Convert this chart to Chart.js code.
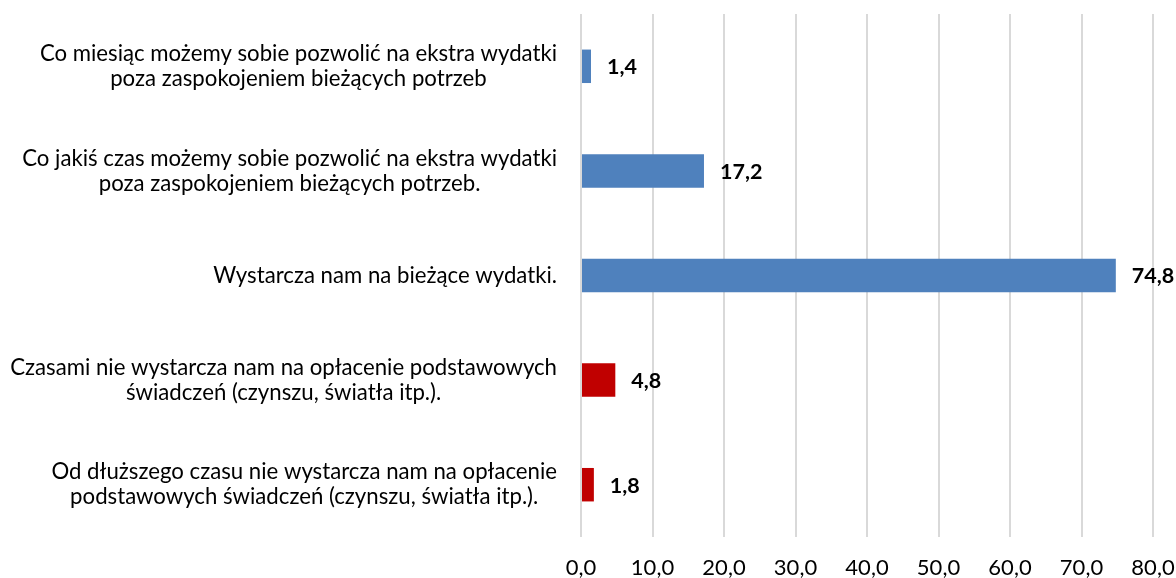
<!DOCTYPE html>
<html>
<head>
<meta charset="utf-8">
<script src="https://cdn.jsdelivr.net/npm/chart.js@4"></script>
<style>
  html, body { margin: 0; padding: 0; background: #fff; }
  #wrap { width: 1176px; height: 578px; position: relative; }
</style>
</head>
<body>
<div id="wrap"><canvas id="c"></canvas></div>
<script>
const categoryLines = [
  ["Co miesiąc możemy sobie pozwolić na ekstra wydatki", "poza zaspokojeniem bieżących potrzeb"],
  ["Co jakiś czas możemy sobie pozwolić na ekstra wydatki", "poza zaspokojeniem bieżących potrzeb."],
  ["Wystarcza nam na bieżące wydatki."],
  ["Czasami nie wystarcza nam na opłacenie podstawowych", "świadczeń (czynszu, światła itp.)."],
  ["Od dłuższego czasu nie wystarcza nam na opłacenie", "podstawowych świadczeń (czynszu, światła itp.)."]
];
const values = [1.4, 17.2, 74.8, 4.8, 1.8];
const barColors = ["#4F81BD", "#4F81BD", "#4F81BD", "#C00000", "#C00000"];
const xTickValues = [0, 10, 20, 30, 40, 50, 60, 70, 80];
const xTickLabels = ["0,0", "10,0", "20,0", "30,0", "40,0", "50,0", "60,0", "70,0", "80,0"];

const FONT = "Lato, 'Open Sans', sans-serif";
const LABEL_SIZE = 22.2;
const VALUE_SIZE = 21.5;
const LABEL_RIGHT = 557;

const textPlugin = {
  id: 'customText',
  afterDatasetsDraw(chart) {
    const ctx = chart.ctx;
    const ys = chart.scales.y;
    const xs = chart.scales.x;
    ctx.save();
    ctx.fillStyle = '#000';
    ctx.textBaseline = 'middle';
    ctx.font = LABEL_SIZE + 'px ' + FONT;
    ctx.textAlign = 'center';
    const lh = 25;
    categoryLines.forEach((lines, i) => {
      const cy = ys.getPixelForValue(i);
      const w = Math.max(...lines.map(l => ctx.measureText(l).width));
      const cx = LABEL_RIGHT - w / 2;
      lines.forEach((l, j) => {
        ctx.fillText(l, cx, cy + (j - (lines.length - 1) / 2) * lh);
      });
    });
    ctx.font = 'bold ' + VALUE_SIZE + 'px ' + FONT;
    ctx.textAlign = 'left';
    values.forEach((v, i) => {
      const txt = v.toFixed(1).replace('.', ',');
      ctx.fillText(txt, xs.getPixelForValue(v) + 16, ys.getPixelForValue(i) + 1);
    });
    ctx.restore();
  }
};

new Chart(document.getElementById('c'), {
  type: 'bar',
  data: {
    labels: categoryLines,
    datasets: [{
      data: values,
      backgroundColor: barColors,
      borderWidth: 0,
      barPercentage: 0.32,
      categoryPercentage: 1.0
    }]
  },
  options: {
    indexAxis: 'y',
    responsive: true,
    maintainAspectRatio: false,
    animation: false,
    layout: { padding: { top: 14, right: 23, left: 0, bottom: 0 } },
    plugins: { legend: { display: false }, tooltip: { enabled: false } },
    scales: {
      y: {
        type: 'category',
        grid: { display: false },
        border: { display: false },
        ticks: { display: false },
        afterFit(scale) { scale.width = 581; scale.paddingTop = 0; scale.paddingBottom = 0; }
      },
      x: {
        type: 'linear',
        min: 0,
        max: 80,
        grid: { color: '#D9D9D9', lineWidth: 2, drawTicks: false },
        border: { display: false },
        afterBuildTicks(scale) { scale.ticks = xTickValues.map(v => ({ value: v })); },
        ticks: {
          padding: 18,
          color: '#000',
          font: { family: FONT, size: 22 },
          maxRotation: 0,
          callback: (v) => xTickLabels[xTickValues.indexOf(v)]
        },
        afterFit(scale) { scale.height = 41; scale.paddingLeft = 0; scale.paddingRight = 0; }
      }
    }
  },
  plugins: [textPlugin]
});
</script>
</body>
</html>
